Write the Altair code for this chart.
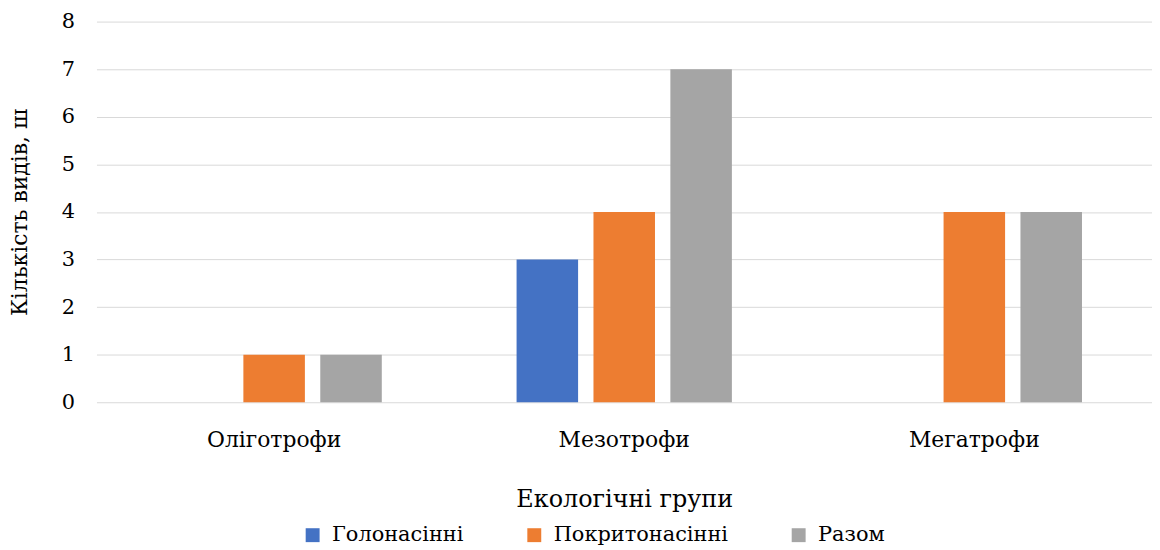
import altair as alt
import pandas as pd

categories = ["Оліготрофи", "Мезотрофи", "Мегатрофи"]
series = ["Голонасінні", "Покритонасінні", "Разом"]
golonasinni = [0, 3, 0]
pokrytonasinni = [1, 4, 4]
razom = [1, 7, 4]
colors = ["#4472C4", "#ED7D31", "#A5A5A5"]

rows = []
for i, c in enumerate(categories):
    for s, vals in zip(series, [golonasinni, pokrytonasinni, razom]):
        rows.append({"group": c, "series": s, "value": vals[i]})
df = pd.DataFrame(rows)

FONT = "DejaVu Serif"

chart = alt.Chart(df).mark_bar().encode(
    x=alt.X("group:N", sort=categories,
            scale=alt.Scale(paddingInner=0.385, paddingOuter=0.2),
            axis=alt.Axis(title="Екологічні групи", labelAngle=0, labelFontSize=22,
                          labelPadding=28, titleFontSize=24, titlePadding=37,
                          titleFontWeight="normal", ticks=False, domain=False,
                          labelColor="#000", titleColor="#000", labelFont=FONT, titleFont=FONT)),
    xOffset=alt.XOffset("series:N", sort=series, scale=alt.Scale(paddingInner=0.2)),
    y=alt.Y("value:Q", scale=alt.Scale(domain=[0, 8]),
            axis=alt.Axis(title="Кількість видів, ш", values=list(range(9)),
                          labelOverlap=False,
                          labelFontSize=21, labelPadding=22, titleFontSize=22,
                          titlePadding=30, titleFontWeight="normal", ticks=False,
                          domain=False, gridColor="#d9d9d9", labelColor="#000",
                          titleColor="#000", labelFont=FONT, titleFont=FONT)),
    color=alt.Color("series:N", sort=series,
                    scale=alt.Scale(domain=series, range=colors),
                    legend=alt.Legend(title=None, orient="none", direction="horizontal",
                                      legendX=207, legendY=506, symbolType="square",
                                      symbolSize=196, symbolStrokeWidth=0,
                                      labelFontSize=21, labelFont=FONT, labelColor="#000",
                                      labelLimit=400, columnPadding=60, labelOffset=9)),
).properties(
    width=1062, height=383,
    autosize=alt.AutoSizeParams(type="none"),
    padding={"left": 89, "top": 12, "right": 0, "bottom": 146},
).configure_view(stroke=None)

chart.save("out.html", embed_options={"renderer": "svg", "actions": False})
